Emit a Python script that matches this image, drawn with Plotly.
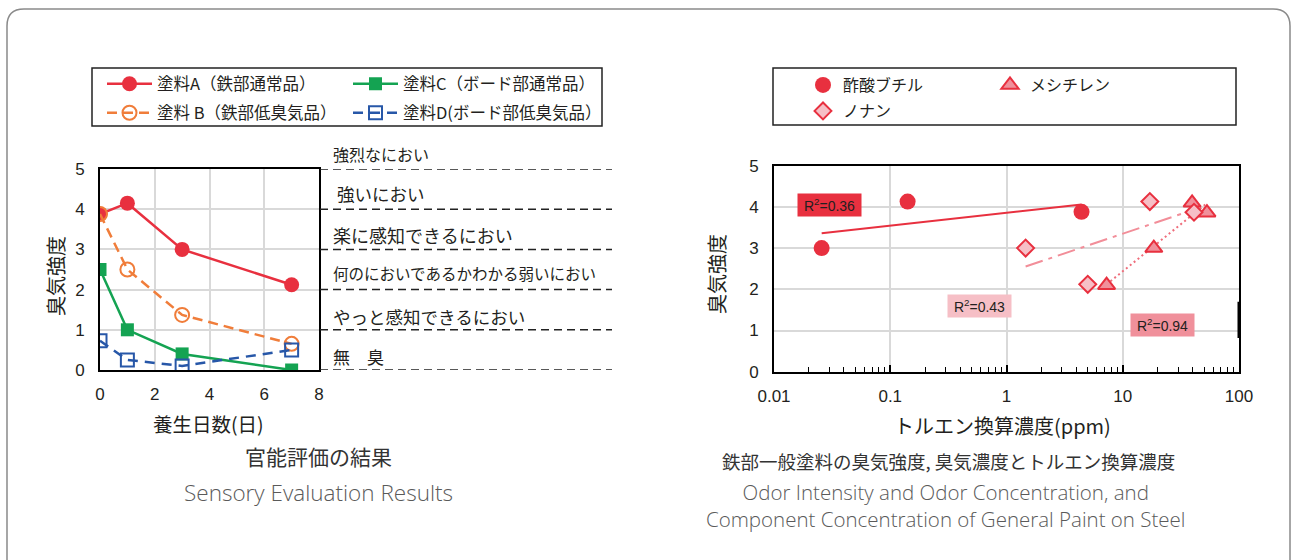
import numpy as np
import plotly.graph_objects as go

W, H = 1291, 560


def PX(x):
    return x / W


def PY(y):
    return 1 - y / H


# ---------------- data: left chart (sensory evaluation) ----------------
days = [0, 1, 3, 7]
paint_a = [3.88, 4.15, 3.0, 2.12]
paint_b = [3.88, 2.5, 1.37, 0.65]
paint_c = [2.5, 1.0, 0.4, 0.0]
paint_d = [0.73, 0.25, 0.1, 0.5]
name_a = "塗料A（鉄部通常品）"
name_b = "塗料 B（鉄部低臭気品）"
name_c = "塗料C（ボード部通常品）"
name_d = "塗料D(ボード部低臭気品）"

level_values = [5, 4, 3, 2, 1, 0]
level_labels = ["強烈なにおい", "強いにおい", "楽に感知できるにおい",
                "何のにおいであるかわかる弱いにおい", "やっと感知できるにおい", "無　臭"]

# ---------------- data: right chart (toluene-equivalent conc.) ----------------
butyl_x = [0.0257, 0.141, 4.42]
butyl_y = [3.0, 4.13, 3.88]
nonane_x = [1.46, 5.0, 17.1, 41.0]
nonane_y = [3.0, 2.12, 4.13, 3.87]
mesit_x = [7.26, 18.5, 39.5, 53.0]
mesit_y = [2.1, 3.0, 4.1, 3.86]
name_butyl = "酢酸ブチル"
name_mesit = "メシチレン"
name_nonane = "ノナン"
r2_labels = ["0.36", "0.43", "0.94"]

# ---------------- styles ----------------
JP = "Noto Sans CJK JP"
NUM = "Liberation Sans, Arial, sans-serif"
RED = "#e8303f"
ORANGE = "#f07d3a"
GREEN = "#14a352"
BLUE = "#2757a8"
PINK_LIGHT = "#f6bfc6"
PINK_MID = "#f0909b"
GRID = "#d9d9d9"
TXT = "#231f20"


def log_fit(xs, ys):
    lx = np.log10(np.asarray(xs, float))
    y = np.asarray(ys, float)
    b, a = np.polyfit(lx, y, 1)
    x_end = np.array([min(xs), max(xs)], float)
    return x_end, a + b * np.log10(x_end)


fig = go.Figure()

# ----- left chart traces -----
fig.add_trace(go.Scatter(x=days, y=paint_a, name=name_a, mode="lines+markers",
                         line=dict(color=RED, width=2.5),
                         marker=dict(symbol="circle", size=15, color=RED),
                         legend="legend", xaxis="x", yaxis="y"))
fig.add_trace(go.Scatter(x=days, y=paint_b, name=name_b, mode="lines+markers",
                         line=dict(color=ORANGE, width=2.5, dash="10px,6px"),
                         marker=dict(symbol="circle-open", size=14, color=ORANGE,
                                     line=dict(width=2)),
                         legend="legend2", xaxis="x", yaxis="y"))
fig.add_trace(go.Scatter(x=days, y=paint_c, name=name_c, mode="lines+markers",
                         line=dict(color=GREEN, width=2.5),
                         marker=dict(symbol="square", size=13, color=GREEN),
                         legend="legend", xaxis="x", yaxis="y"))
fig.add_trace(go.Scatter(x=days, y=paint_d, name=name_d, mode="lines+markers",
                         line=dict(color=BLUE, width=2.5, dash="10px,7px"),
                         marker=dict(symbol="square-open", size=13, color=BLUE,
                                     line=dict(width=2)),
                         legend="legend2", xaxis="x", yaxis="y"))

# ----- right chart: trendlines -----
tx, ty = log_fit(butyl_x, butyl_y)
fig.add_trace(go.Scatter(x=tx, y=ty, mode="lines", showlegend=False,
                         line=dict(color=RED, width=2), xaxis="x2", yaxis="y2"))
tx, ty = log_fit(nonane_x, nonane_y)
fig.add_trace(go.Scatter(x=tx, y=ty, mode="lines", showlegend=False,
                         line=dict(color="#f28e99", width=2, dash="18px,6px,4px,6px"),
                         xaxis="x2", yaxis="y2"))
tx, ty = log_fit(mesit_x, mesit_y)
fig.add_trace(go.Scatter(x=tx, y=ty, mode="lines", showlegend=False,
                         line=dict(color="#ef6d7b", width=2, dash="2px,3px"),
                         xaxis="x2", yaxis="y2"))

# ----- right chart: points -----
fig.add_trace(go.Scatter(x=butyl_x, y=butyl_y, name=name_butyl, mode="markers",
                         marker=dict(symbol="circle", size=16, color=RED),
                         legend="legend3", xaxis="x2", yaxis="y2"))
fig.add_trace(go.Scatter(x=mesit_x, y=mesit_y, name=name_mesit, mode="markers",
                         marker=dict(symbol="triangle-up", size=15, color=PINK_MID,
                                     line=dict(color=RED, width=2)),
                         legend="legend3", xaxis="x2", yaxis="y2"))
fig.add_trace(go.Scatter(x=nonane_x, y=nonane_y, name=name_nonane, mode="markers",
                         marker=dict(symbol="diamond", size=13, color=PINK_LIGHT,
                                     line=dict(color=RED, width=2)),
                         legend="legend4", xaxis="x2", yaxis="y2"))

tickfont = dict(family=NUM, size=17, color=TXT)
left_leg = dict(xanchor="left", yanchor="middle", orientation="h", entrywidth=186,
                itemwidth=45, bgcolor="rgba(0,0,0,0)",
                font=dict(family=JP, size=16.5, color=TXT), itemclick=False)
right_leg = dict(xanchor="left", yanchor="middle", orientation="h", entrywidth=142,
                 bgcolor="rgba(0,0,0,0)",
                 font=dict(family=JP, size=16, color=TXT), itemclick=False)

fig.update_layout(
    width=W, height=H, autosize=False,
    margin=dict(l=0, r=0, t=0, b=0, pad=0, autoexpand=False),
    paper_bgcolor="white", plot_bgcolor="white",
    xaxis=dict(domain=[PX(100), PX(319)], range=[0, 8], dtick=2, tick0=0,
               showgrid=True, gridcolor=GRID, gridwidth=1.5,
               showline=True, linecolor="black", linewidth=2, mirror=True,
               zeroline=False, ticks="", tickfont=tickfont, ticklabelstandoff=8,
               anchor="y", automargin=False),
    yaxis=dict(domain=[PY(370), PY(169)], range=[0, 5], dtick=1,
               showgrid=True, gridcolor=GRID, gridwidth=1.5,
               showline=True, linecolor="black", linewidth=2, mirror=True,
               zeroline=False, ticks="", tickfont=tickfont, ticklabelstandoff=10,
               anchor="x", automargin=False),
    xaxis2=dict(domain=[PX(774), PX(1239)], type="log", range=[-2, 2], dtick=1,
                showgrid=True, gridcolor=GRID, gridwidth=1.5,
                showline=True, linecolor="black", linewidth=2, mirror=True,
                zeroline=False, ticks="inside", ticklen=7, tickwidth=1.5,
                tickcolor="black",
                minor=dict(ticks="inside", ticklen=5, tickwidth=1.2,
                           tickcolor="black", dtick="D1", showgrid=False),
                tickfont=tickfont, ticklabelstandoff=8, anchor="y2", automargin=False),
    yaxis2=dict(domain=[PY(371.7), PY(165.7)], range=[0, 5], dtick=1,
                showgrid=True, gridcolor=GRID, gridwidth=1.5,
                showline=True, linecolor="black", linewidth=2, mirror=True,
                zeroline=False, ticks="", tickfont=tickfont, ticklabelstandoff=10,
                anchor="x2", automargin=False),
    legend=dict(left_leg, x=PX(102), y=PY(84)),
    legend2=dict(left_leg, x=PX(102), y=PY(113)),
    legend3=dict(right_leg, x=PX(803), y=PY(85)),
    legend4=dict(right_leg, x=PX(803), y=PY(111)),
)

shapes = []
# outer rounded frame
pts = [("M", 7, 585), ("L", 7, 26), ("Q", 7, 9, 24, 9), ("L", 1273, 9),
       ("Q", 1290, 9, 1290, 26), ("L", 1290, 585)]
path = ""
for p in pts:
    cmd, coords = p[0], p[1:]
    pairs = [f"{PX(coords[i]):.5f},{PY(coords[i + 1]):.5f}" for i in range(0, len(coords), 2)]
    path += cmd + " ".join(pairs) + " "
shapes.append(dict(type="path", path=path.strip(), xref="paper", yref="paper",
                   line=dict(color="#8a8a8a", width=1.5)))
# legend boxes
shapes.append(dict(type="rect", xref="paper", yref="paper", x0=PX(92), x1=PX(602),
                   y0=PY(126), y1=PY(68), line=dict(color="#222", width=1.5)))
shapes.append(dict(type="rect", xref="paper", yref="paper", x0=PX(773), x1=PX(1236),
                   y0=PY(125), y1=PY(68), line=dict(color="#222", width=1.5)))
# level lines to the right of the left chart
for v in level_values:
    shapes.append(dict(type="line", xref="paper", yref="y", x0=PX(320), x1=PX(612),
                       y0=v, y1=v, line=dict(color="#222", width=1.5, dash="8px,5px")))
# artefact thick segment on the right frame of the right chart
shapes.append(dict(type="line", xref="paper", yref="y2", x0=PX(1239), x1=PX(1239),
                   y0=0.82, y1=1.7, line=dict(color="black", width=3)))


def ann(text, x, y, size, color=TXT, family=JP, xanchor="center", weight=None, **kw):
    font = dict(family=family, size=size, color=color)
    if weight is not None:
        font["weight"] = weight
    d = dict(text=text, x=PX(x), y=PY(y), xref="paper", yref="paper",
             xanchor=xanchor, yanchor="middle", showarrow=False, font=font)
    d.update(kw)
    return d


annotations = []
# level labels
label_y = [154, 193, 235, 273, 316, 356]
label_x = [331, 335, 331, 331, 331, 331]
label_size = [16, 17.5, 18, 15.5, 17.5, 17]
for t, lx, ly, ls in zip(level_labels, label_x, label_y, label_size):
    annotations.append(ann(t, lx, ly, ls, xanchor="left"))

# axis titles
annotations += [
    ann("臭気強度", 55, 276, 20, textangle=-90),
    ann("養生日数(日)", 208, 423, 19.5),
    ann("臭気強度", 716, 274, 20, textangle=-90),
    ann("トルエン換算濃度(ppm)", 1002, 425, 20),
]

# R^2 boxes
r2_pos = [(829.7, 204.8, RED), (979, 306.2, PINK_LIGHT), (1162.5, 324.7, PINK_MID)]
for lab, (cx, cy, col) in zip(r2_labels, r2_pos):
    annotations.append(ann(f"R<sup>2</sup>={lab}", cx, cy, 14, family=NUM,
                           width=61, height=20, bgcolor=col, borderpad=1))

# captions
ENG_FONT = "Open Sans"
ENG_COL = "#5a5a5a"
annotations += [
    ann("官能評価の結果", 318, 456, 21, color="#333"),
    ann("Sensory Evaluation Results", 318, 492, 22.5, color=ENG_COL,
        family=ENG_FONT, weight=300),
    ann("鉄部一般塗料の臭気強度, 臭気濃度とトルエン換算濃度", 948, 461, 18.5, color="#333"),
    ann("Odor Intensity and Odor Concentration, and<br>"
        "Component Concentration of General Paint on Steel", 945, 505.5, 20.5,
        color=ENG_COL, family=ENG_FONT, weight=300, align="center"),
]

fig.update_layout(shapes=shapes, annotations=annotations)
fig.write_html("out.html")
